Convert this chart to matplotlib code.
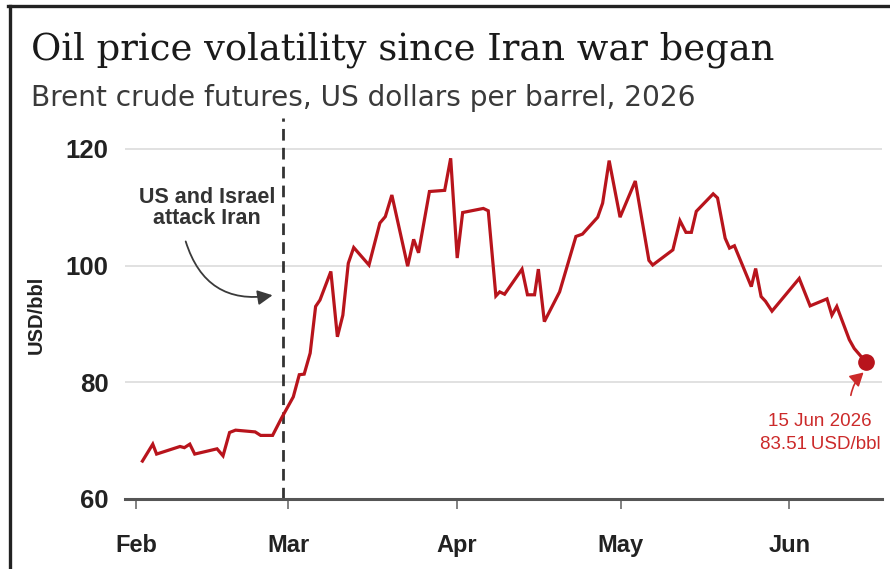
import datetime as dt
import matplotlib
matplotlib.use("Agg")
import matplotlib.pyplot as plt
from matplotlib.lines import Line2D
from matplotlib.patches import FancyArrowPatch

# Brent crude futures, USD per barrel; x = days since 1 Feb 2026
day_offset = [1.2, 3.1, 3.8, 8.1, 8.9, 9.9, 10.8, 14.9, 16.0, 17.2, 18.3, 21.9, 22.9,
              25.1, 26.7, 28.9, 30.0, 30.9, 32.0, 33.0, 33.8, 35.8, 37.0, 38.0, 39.0,
              40.0, 42.8, 44.8, 45.8, 47.0, 49.9, 51.0, 51.9, 53.9, 56.7, 57.8, 59.0,
              60.0, 63.8, 64.7, 66.1, 66.8, 67.7, 70.9, 71.9, 73.2, 73.9, 75.0, 77.8,
              80.8, 82.0, 84.8, 85.7, 86.9, 88.9, 91.7, 94.2, 94.9, 98.6, 99.9, 101.0,
              102.0, 102.9, 106.0, 106.8, 108.2, 109.0, 109.9, 113.0, 113.8, 114.8,
              115.6, 116.8, 121.8, 123.8, 126.9, 127.8, 128.7, 131.0, 131.9, 134.0]
price = [66.5, 69.4, 67.7, 69.0, 68.8, 69.4, 67.7, 68.6, 67.4, 71.4, 71.8, 71.5, 70.9,
         70.9, 73.8, 77.5, 81.3, 81.4, 85.0, 93.0, 94.1, 99.0, 87.8, 91.5, 100.4,
         103.1, 100.1, 107.3, 108.4, 112.1, 99.9, 104.5, 102.2, 112.7, 112.9, 118.4, 101.3,
         109.1, 109.8, 109.4, 94.8, 95.5, 95.1, 99.4, 95.0, 95.0, 99.4, 90.4, 95.5,
         105.0, 105.4, 108.3, 110.7, 118.0, 108.3, 114.5, 100.9, 100.1, 102.7, 107.7, 105.7,
         105.7, 109.3, 112.3, 111.6, 104.7, 103.0, 103.4, 96.4, 99.5, 94.7,
         93.9, 92.2, 97.8, 93.1, 94.3, 91.5, 93.0, 87.3, 85.8, 83.51]

start = dt.date(2026, 2, 1)
month_starts = [dt.date(2026, m, 1) for m in (2, 3, 4, 5, 6)]
month_labels = ["Feb", "Mar", "Apr", "May", "Jun"]
attack_date = dt.date(2026, 2, 28)
last_label = "15 Jun 2026\n83.51\u2009USD/bbl"
y_ticks = [60, 80, 100, 120]

RED = "#b8141c"
LABEL_RED = "#cc2a2a"

fig = plt.figure(figsize=(8.9, 5.69), dpi=100)
fig.patch.set_facecolor("white")
ax = fig.add_axes([125 / 890, 1 - 499 / 569, (882 - 125) / 890, (499 - 118) / 569])

ax.set_xlim(-2, 137)
ax.set_ylim(60, 125.3)

# grid
for v in y_ticks[1:]:
    ax.axhline(v, color="#dedede", lw=1.3, zorder=0)

ax.plot(day_offset, price, color=RED, lw=2.3, solid_joinstyle="miter", zorder=3)
ax.plot(day_offset[-1], price[-1], "o", color=RED, ms=11, zorder=4)

# attack marker
attack_x = (attack_date - start).days
ax.axvline(attack_x, color="#333333", lw=2, dashes=(4.2, 2.6), zorder=2)
ax.text(13.0, 109.9, "US and Israel\nattack Iran", ha="center", va="center",
        fontsize=15.5, fontweight="bold", color="#333333", linespacing=1.02,
        family="Liberation Sans")
ax.add_patch(FancyArrowPatch((9.0, 104.6), (25.6, 95.0),
                             connectionstyle="arc3,rad=0.45",
                             arrowstyle="-|>,head_length=9,head_width=4.5",
                             color="#3a3a3a", lw=1.3, zorder=5))

# last value label
ax.annotate("", xy=(134.0, 82.0), xytext=(131.2, 77.3),
            arrowprops=dict(arrowstyle="-|>,head_length=0.8,head_width=0.45",
                            color=LABEL_RED, lw=1.2,
                            connectionstyle="arc3,rad=-0.2"))
ax.text(125.6, 71.3, last_label, ha="center", va="center", fontsize=13.5,
        color=LABEL_RED, linespacing=1.4, family="Liberation Sans")

# axes styling
for s in ("top", "right", "left"):
    ax.spines[s].set_visible(False)
ax.spines["bottom"].set_color("#555555")
ax.spines["bottom"].set_linewidth(2.2)

ax.set_xticks([(d - start).days for d in month_starts])
ax.set_xticklabels(month_labels)
ax.tick_params(axis="x", length=7, width=1.3, color="#777777", pad=18,
               labelsize=17, labelcolor="#222222")
ax.set_yticks(y_ticks)
ax.tick_params(axis="y", length=0, pad=12, labelsize=18.5, labelcolor="#222222")
for lab in ax.get_xticklabels() + ax.get_yticklabels():
    lab.set_fontweight("bold")
    lab.set_family("Liberation Sans")

fig.text(36 / 890, 1 - 315 / 569, "USD/bbl", rotation=90, ha="center", va="center",
         fontsize=14.5, fontweight="bold", color="#222222", family="Liberation Sans")

fig.text(31 / 890, 1 - 50 / 569, "Oil price volatility since Iran war began",
         ha="left", va="center", fontsize=26.6, color="#1a1a1a", family="DejaVu Serif")
fig.text(31 / 890, 1 - 98 / 569, "Brent crude futures, US dollars per barrel, 2026",
         ha="left", va="center", fontsize=20.2, color="#3a3a3a", family="DejaVu Sans")

# frame edges
fig.add_artist(Line2D([8 / 890, 1], [1 - 6 / 569, 1 - 6 / 569], color="#222222", lw=2.4))
fig.add_artist(Line2D([10 / 890, 10 / 890], [0, 1 - 6 / 569], color="#222222", lw=2.4))

fig.savefig("out.png", dpi=100, facecolor="white")
